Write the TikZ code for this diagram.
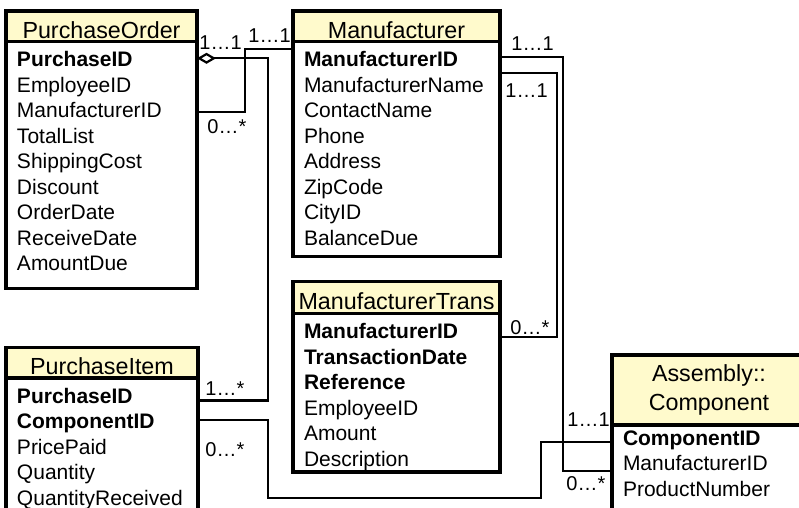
\documentclass[tikz,border=0pt]{standalone}
\usepackage{fontspec}
\setmainfont{Liberation Sans}
\usetikzlibrary{arrows.meta}
\definecolor{headfill}{RGB}{255,250,204}
\newcommand{\headfont}{\fontsize{11.65}{14.2}\selectfont}
\newcommand{\rowfont}{\fontsize{10.5}{12.75}\selectfont}
\newcommand{\cardfont}{\fontsize{10}{12}\selectfont}

\begin{document}
\begin{tikzpicture}[
        x=0.5pt, y=-0.5pt,
        classhead/.style={draw, line width=1.7pt, fill=headfill, inner sep=0pt, outer sep=0pt, anchor=north west, font=\headfont},
        namehead/.style={classhead, text height=11.8pt, text depth=0pt},
        classbody/.style={draw, line width=1.7pt, fill=white, inner xsep=5.5pt, inner ysep=0pt, outer sep=0pt, anchor=north west, align=left, font=\rowfont},
        assoc/.style={line width=1.1pt},
        card/.style={font=\cardfont, inner sep=0pt, anchor=base west},
    ]
        \useasboundingbox (0,0) rectangle (799,508);

        \node[namehead, minimum width=95.5pt, minimum height=15.35pt] (pohead) at (6,11) {PurchaseOrder};
        \node[classbody, text width=84.5pt, text height=12.5pt, text depth=110.9pt] (pobody) at (pohead.south west) {%
            \textbf{PurchaseID}\\ EmployeeID\\ ManufacturerID\\ TotalList\\ ShippingCost\\
            Discount\\ OrderDate\\ ReceiveDate\\ AmountDue};

        \node[namehead, minimum width=103.5pt, minimum height=15.35pt] (mhead) at (293,11) {Manufacturer};
        \node[classbody, text width=92.5pt, text height=12.5pt, text depth=95pt] (mbody) at (mhead.south west) {%
            \textbf{ManufacturerID}\\ ManufacturerName\\ ContactName\\ Phone\\ Address\\
            ZipCode\\ CityID\\ BalanceDue};

        \node[namehead, minimum width=103.5pt, minimum height=15.8pt] (mthead) at (293,281.7) {ManufacturerTrans};
        \node[classbody, text width=92.5pt, text height=12.75pt, text depth=66.5pt] (mtbody) at (mthead.south west) {%
            \textbf{ManufacturerID}\\ \textbf{TransactionDate}\\ \textbf{Reference}\\
            EmployeeID\\ Amount\\ Description};

        \node[namehead, minimum width=96pt, minimum height=15.25pt] (pihead) at (6,347.5) {PurchaseItem};
        \node[classbody, text width=85pt, text height=12.65pt, text depth=63pt] (pibody) at (pihead.south west) {%
            \textbf{PurchaseID}\\ \textbf{ComponentID}\\ PricePaid\\ Quantity\\ QuantityReceived};

        \node[classhead, align=center, minimum width=97pt, minimum height=35pt] (chead) at (612,355) {Assembly::\\ Component};
        \node[classbody, text width=86pt, text height=10pt, text depth=47.5pt] (cbody) at (chead.south west) {%
            \textbf{ComponentID}\\ ManufacturerID\\ ProductNumber};

        % associations
        \draw[assoc] ([yshift=-35pt]pobody.north east) -| ([xshift=-24pt,yshift=-3.65pt]mbody.north west)
            -- ([yshift=-3.65pt]mbody.north west);
        \draw[assoc, {Diamond[open, length=9.5pt, width=5.5pt]}-] ([yshift=-8.3pt]pobody.north east)
            -| ([xshift=35pt,yshift=-11.25pt]pibody.north east) -- ([yshift=-11.25pt]pibody.north east);
        \draw[assoc] ([yshift=-7.8pt]mbody.north east) -| ([xshift=-24.35pt,yshift=-23pt]cbody.north west)
            -- ([yshift=-23pt]cbody.north west);
        \draw[assoc] ([yshift=-15.8pt]mbody.north east) -| ([xshift=28.35pt,yshift=-12pt]mtbody.north east)
            -- ([yshift=-12pt]mtbody.north east);
        \draw[assoc] ([yshift=-21pt]pibody.north east) -- ++(35pt,0) -- ++(0,-39pt)
            -| ([xshift=-35.5pt,yshift=-8.65pt]cbody.north west) -- ([yshift=-8.65pt]cbody.north west);

        % multiplicities
        \node[card] (pomany) at (207,133.3) {0…*};
        \node[card] (poone) at (199,50) {1…1};
        \node[card] (mone) at (248,42.7) {1…1};
        \node[card] (mcone) at (511,50.5) {1…1};
        \node[card] (mtone) at (505,98) {1…1};
        \node[card] (mtmany) at (510,335) {0…*};
        \node[card] (cone) at (567,426.7) {1…1};
        \node[card] (cmany) at (566,490.7) {0…*};
        \node[card] (pimany) at (205,395) {1…*};
        \node[card] (pizero) at (205,456.5) {0…*};
\end{tikzpicture}
\end{document}
